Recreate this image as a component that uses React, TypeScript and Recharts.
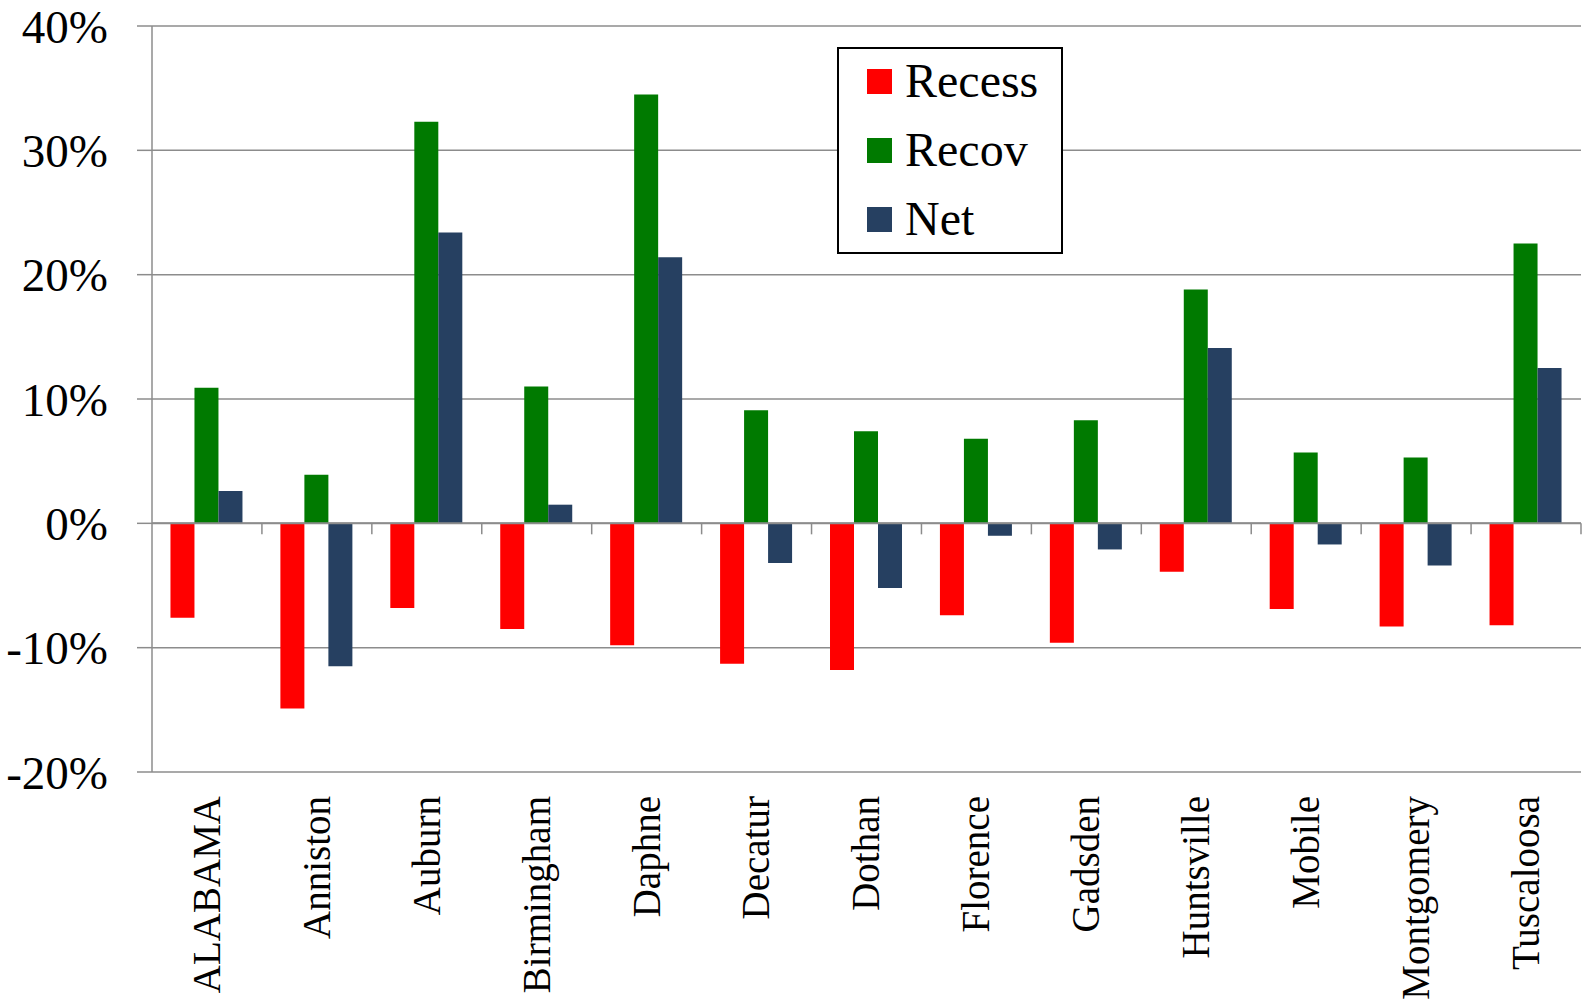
import {Bar, BarChart, CartesianGrid, Legend, ReferenceLine, XAxis, YAxis} from 'recharts';

const categories = [
  'ALABAMA', 'Anniston', 'Auburn', 'Birmingham', 'Daphne', 'Decatur', 'Dothan',
  'Florence', 'Gadsden', 'Huntsville', 'Mobile', 'Montgomery', 'Tuscaloosa',
];

// percent change per area
const recess = [-7.6, -14.9, -6.8, -8.5, -9.8, -11.3, -11.8, -7.4, -9.6, -3.9, -6.9, -8.3, -8.2];
const recov = [10.9, 3.9, 32.3, 11.0, 34.5, 9.1, 7.4, 6.8, 8.3, 18.8, 5.7, 5.3, 22.5];
const net = [2.6, -11.5, 23.4, 1.5, 21.4, -3.2, -5.2, -1.0, -2.1, 14.1, -1.7, -3.4, 12.5];

const seriesNames = ['Recess', 'Recov', 'Net'];
const yTicks = [-20, -10, 0, 10, 20, 30, 40];

const data = categories.map((name, i) => ({
  name,
  recess: recess[i],
  recov: recov[i],
  net: net[i],
}));

const FONT = '"Liberation Serif", "Times New Roman", serif';
const GRID = '#8c8c8c';

function CategoryTick({ x, y, payload }: any) {
  return (
    <text
      x={x}
      y={y}
      transform={`rotate(-90, ${x}, ${y})`}
      textAnchor="end"
      dy="0.33em"
      fontFamily={FONT}
      fontSize={39}
      fill="#000"
    >
      {payload.value}
    </text>
  );
}

// zero line with small ticks between the categories
function ZeroAxis(props: any) {
  const { x1, x2, y1 } = props;
  const step = (x2 - x1) / categories.length;
  const ticks = categories.map((_, i) => x1 + step * (i + 1));
  return (
    <g>
      <line x1={x1} x2={x2} y1={y1} y2={y1} stroke={GRID} strokeWidth={2} />
      {ticks.map((tx) => (
        <line key={tx} x1={tx} x2={tx} y1={y1} y2={y1 + 11} stroke={GRID} strokeWidth={1.5} />
      ))}
    </g>
  );
}

function LegendBox({ payload }: any) {
  const items = [...(payload || [])].sort(
    (a: any, b: any) => seriesNames.indexOf(a.value) - seriesNames.indexOf(b.value),
  );
  return (
    <div
      style={{
        width: 222,
        height: 203,
        border: '2px solid #000',
        background: '#fff',
        boxSizing: 'content-box',
      }}
    >
      {items.map((entry: any, i: number) => (
        <div
          key={entry.value}
          style={{
            position: 'absolute',
            left: 30,
            top: 10 + i * 69,
            height: 48,
            display: 'flex',
            alignItems: 'center',
          }}
        >
          <span style={{ width: 25, height: 25, background: entry.color, display: 'inline-block' }} />
          <span style={{ marginLeft: 13, fontFamily: FONT, fontSize: 48, color: '#000', lineHeight: '48px' }}>
            {entry.value}
          </span>
        </div>
      ))}
    </div>
  );
}

export default function App() {
  return (
    <div style={{ position: 'absolute', left: 0, top: 0 }}>
      <BarChart
        width={1586}
        height={1008}
        data={data}
        margin={{ top: 26, right: 5, bottom: 0, left: 0 }}
        barCategoryGap="16.8%"
        barGap={0}
      >
        <CartesianGrid vertical={false} stroke={GRID} strokeWidth={1.5} />
        <XAxis
          dataKey="name"
          height={236}
          axisLine={false}
          tickLine={false}
          tickSize={0}
          tickMargin={24}
          interval={0}
          tick={<CategoryTick />}
        />
        <YAxis
          width={152}
          domain={[-20, 40]}
          ticks={yTicks}
          interval={0}
          tickFormatter={(v) => `${v}%`}
          axisLine={{ stroke: GRID, strokeWidth: 1.5 }}
          tickLine={{ stroke: GRID, strokeWidth: 1.5 }}
          tickSize={15}
          tickMargin={29}
          tick={{ fontFamily: FONT, fontSize: 47, fill: '#000' }}
        />
        <Legend
          layout="vertical"
          align="center"
          verticalAlign="middle"
          content={<LegendBox />}
          wrapperStyle={{ position: 'absolute', left: 837, top: 47, width: 226, height: 207 }}
        />
        <Bar dataKey="recess" name="Recess" fill="#ff0000" isAnimationActive={false} />
        <Bar dataKey="recov" name="Recov" fill="#007a00" isAnimationActive={false} />
        <Bar dataKey="net" name="Net" fill="#264061" isAnimationActive={false} />
        <ReferenceLine y={0} shape={<ZeroAxis />} />
      </BarChart>
    </div>
  );
}
